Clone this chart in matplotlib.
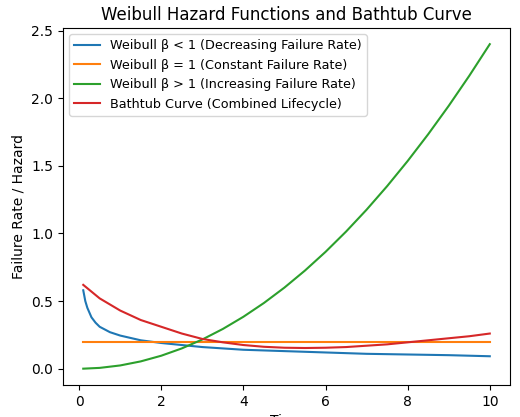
import numpy as np
import matplotlib.pyplot as plt

# values
t_dec = [0.1, 0.15, 0.2, 0.3, 0.4, 0.5, 0.75, 1, 1.5, 2, 3, 4, 5, 6, 7, 8, 9, 10]
h_dec = [0.58, 0.50, 0.45, 0.38, 0.34, 0.31, 0.27, 0.245, 0.21, 0.19, 0.16, 0.14, 0.13, 0.12, 0.11, 0.105, 0.10, 0.092]

t_const = [0.1, 10]
h_const = [0.2, 0.2]

t_inc = [0.1, 0.5, 1, 1.5, 2, 2.5, 3, 3.5, 4, 4.5, 5, 5.5, 6, 6.5, 7, 7.5, 8, 8.5, 9, 9.5, 10]
h_inc = [0.0002, 0.006, 0.024, 0.054, 0.096, 0.15, 0.216, 0.294, 0.384, 0.486, 0.60, 0.726,
         0.864, 1.014, 1.176, 1.35, 1.536, 1.734, 1.944, 2.166, 2.40]

t_bath = [0.1, 0.5, 1, 1.5, 2, 2.5, 3, 3.5, 4, 4.5, 5, 5.5, 6, 6.5, 7, 7.5, 8, 8.5, 9, 9.5, 10]
h_bath = [0.62, 0.52, 0.43, 0.36, 0.31, 0.26, 0.22, 0.195, 0.175, 0.162, 0.155, 0.153, 0.155,
          0.16, 0.17, 0.18, 0.195, 0.21, 0.225, 0.24, 0.26]

plt.figure(figsize=(5.2, 4.17), dpi=100)
plt.plot(t_dec, h_dec, label="Weibull β < 1 (Decreasing Failure Rate)")
plt.plot(t_const, h_const, label="Weibull β = 1 (Constant Failure Rate)")
plt.plot(t_inc, h_inc, label="Weibull β > 1 (Increasing Failure Rate)")
plt.plot(t_bath, h_bath, label="Bathtub Curve (Combined Lifecycle)")
plt.xlabel("Time")
plt.ylabel("Failure Rate / Hazard")
plt.title("Weibull Hazard Functions and Bathtub Curve")
plt.legend(loc="upper left", fontsize=9.2)
plt.subplots_adjust(left=0.121, right=0.981, top=0.933, bottom=0.077)
plt.savefig("out.png", dpi=100)
